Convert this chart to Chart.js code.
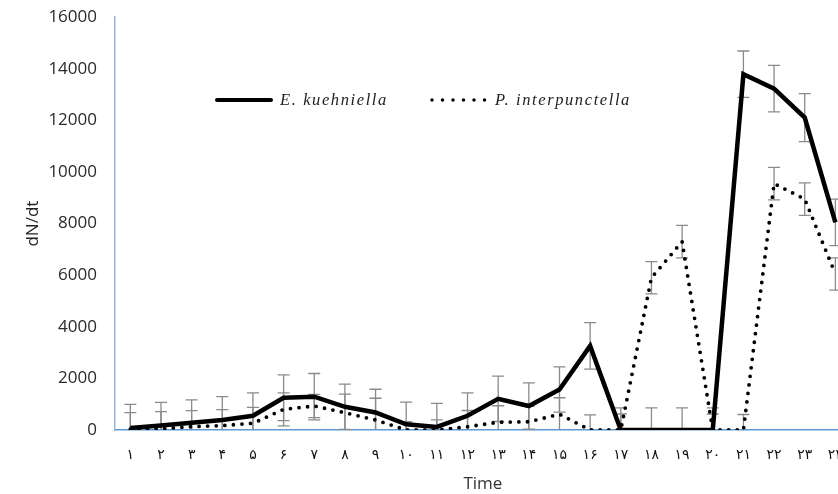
<!DOCTYPE html>
<html>
<head>
<meta charset="utf-8">
<script src="https://cdn.jsdelivr.net/npm/chart.js@4.4.1/dist/chart.umd.min.js"></script>
<style>
  html, body { margin: 0; padding: 0; background: #fff; overflow: hidden; }
  #wrap { position: relative; width: 860px; height: 494px; overflow: hidden; }
  #chart { position: absolute; left: 0; top: -11px; }
  #legend { position: absolute; left: 0; top: 0; font-family: 'Liberation Serif', serif; font-style: italic; font-size: 16.5px; letter-spacing: 1.6px; color: #222; }
  .item { position: absolute; top: 90px; display: flex; align-items: center; white-space: nowrap; }
  .item svg { margin-right: 7px; }
</style>
</head>
<body>
<div id="wrap">
  <canvas id="chart" width="860" height="505"></canvas>
  <div id="legend">
    <div class="item" style="left:215px">
      <svg width="58" height="10"><line x1="2" y1="5" x2="56" y2="5" stroke="#000" stroke-width="4" stroke-linecap="round"/></svg>
      <span>E. kuehniella</span>
    </div>
    <div class="item" style="left:430px">
      <svg width="58" height="10"><line x1="2" y1="5" x2="56" y2="5" stroke="#000" stroke-width="3.5" stroke-linecap="round" stroke-dasharray="0 10.5"/></svg>
      <span>P. interpunctella</span>
    </div>
  </div>
</div>
<script>
const timeLabels = ['۱','۲','۳','۴','۵','۶','۷','۸','۹','۱۰','۱۱','۱۲','۱۳','۱۴','۱۵','۱۶','۱۷','۱۸','۱۹','۲۰','۲۱','۲۲','۲۳','۲۴'];

const ekValues = [80, 170, 280, 390, 550, 1250, 1290, 900, 680, 220, 120, 550, 1210, 930, 1570, 3260, 0, 0, 0, 0, 13790, 13230, 12110, 8050];
const ekErrors = [910, 900, 890, 900, 890, 890, 900, 880, 900, 860, 915, 890, 880, 900, 875, 900, 860, 860, 860, 860, 900, 900, 930, 900];

const piValues = [30, 50, 130, 170, 260, 800, 930, 670, 390, 0, 0, 125, 300, 320, 610, 0, 0, 5900, 7300, 0, 0, 9550, 8950, 6050];
const piErrors = [640, 660, 620, 620, 620, 640, 450, 720, 840, 320, 390, 630, 640, 600, 640, 590, 620, 625, 630, 620, 600, 630, 630, 625];

const yTicks = [0, 2000, 4000, 6000, 8000, 10000, 12000, 14000, 16000];

// error bars drawn through the scales, under the lines
const errorBars = {
    id: 'errorBars',
    beforeDatasetsDraw(chart) {
        const { ctx, chartArea, scales: { x, y } } = chart;
        ctx.save();
        ctx.beginPath();
        ctx.rect(chartArea.left, chartArea.top - 2, chartArea.right - chartArea.left, chartArea.bottom - chartArea.top + 2);
        ctx.clip();
        ctx.strokeStyle = '#8a8a8a';
        ctx.lineWidth = 1.3;
        chart.data.datasets.forEach(ds => {
            ds.data.forEach((v, i) => {
                const err = ds.errors[i];
                const px = x.getPixelForValue(i);
                const top = y.getPixelForValue(v + err);
                const bot = y.getPixelForValue(v - err);
                ctx.beginPath();
                ctx.moveTo(px, top); ctx.lineTo(px, bot);
                ctx.moveTo(px - 6, top); ctx.lineTo(px + 6, top);
                ctx.moveTo(px - 6, bot); ctx.lineTo(px + 6, bot);
                ctx.stroke();
            });
        });
        ctx.restore();
    }
};

new Chart(document.getElementById('chart'), {
    type: 'line',
    data: {
        labels: timeLabels,
        datasets: [{
            label: 'E. kuehniella',
            data: ekValues,
            errors: ekErrors,
            borderColor: '#000',
            borderWidth: 4.5,
            pointRadius: 0,
            tension: 0,
            borderJoinStyle: 'miter'
        }, {
            label: 'P. interpunctella',
            data: piValues,
            errors: piErrors,
            borderColor: '#000',
            borderWidth: 3.8,
            borderDash: [0, 8.6],
            borderCapStyle: 'round',
            pointRadius: 0,
            tension: 0
        }]
    },
    options: {
        responsive: false,
        animation: false,
        devicePixelRatio: 1,
        layout: { padding: { top: 5, left: 23, right: 5, bottom: 0 } },
        plugins: { legend: { display: false }, tooltip: { enabled: false } },
        scales: {
            x: {
                offset: true,
                grid: { display: false, drawTicks: false },
                border: { color: '#5b9bd5', width: 1.5 },
                ticks: { color: '#111', font: { family: 'DejaVu Sans', size: 14 }, padding: 17, maxRotation: 0, autoSkip: false },
                title: { display: true, text: 'Time', color: '#333', font: { family: 'Open Sans', size: 17 }, padding: { top: 4, bottom: 0 } },
                afterFit: s => { s.height = 64; }
            },
            y: {
                min: 0, max: 16000,
                afterBuildTicks: s => { s.ticks = yTicks.map(v => ({ value: v })); },
                grid: { display: false, drawTicks: false },
                border: { color: '#95b3d7', width: 1.5 },
                ticks: { color: '#2a2a2a', font: { family: 'Open Sans', size: 17 }, padding: 18, callback: v => String(v) },
                title: { display: true, text: 'dN/dt', color: '#222', font: { family: 'Open Sans', size: 17 }, padding: 0 },
                afterFit: s => { s.width = 92; }
            }
        }
    },
    plugins: [errorBars]
});
</script>
</body>
</html>
